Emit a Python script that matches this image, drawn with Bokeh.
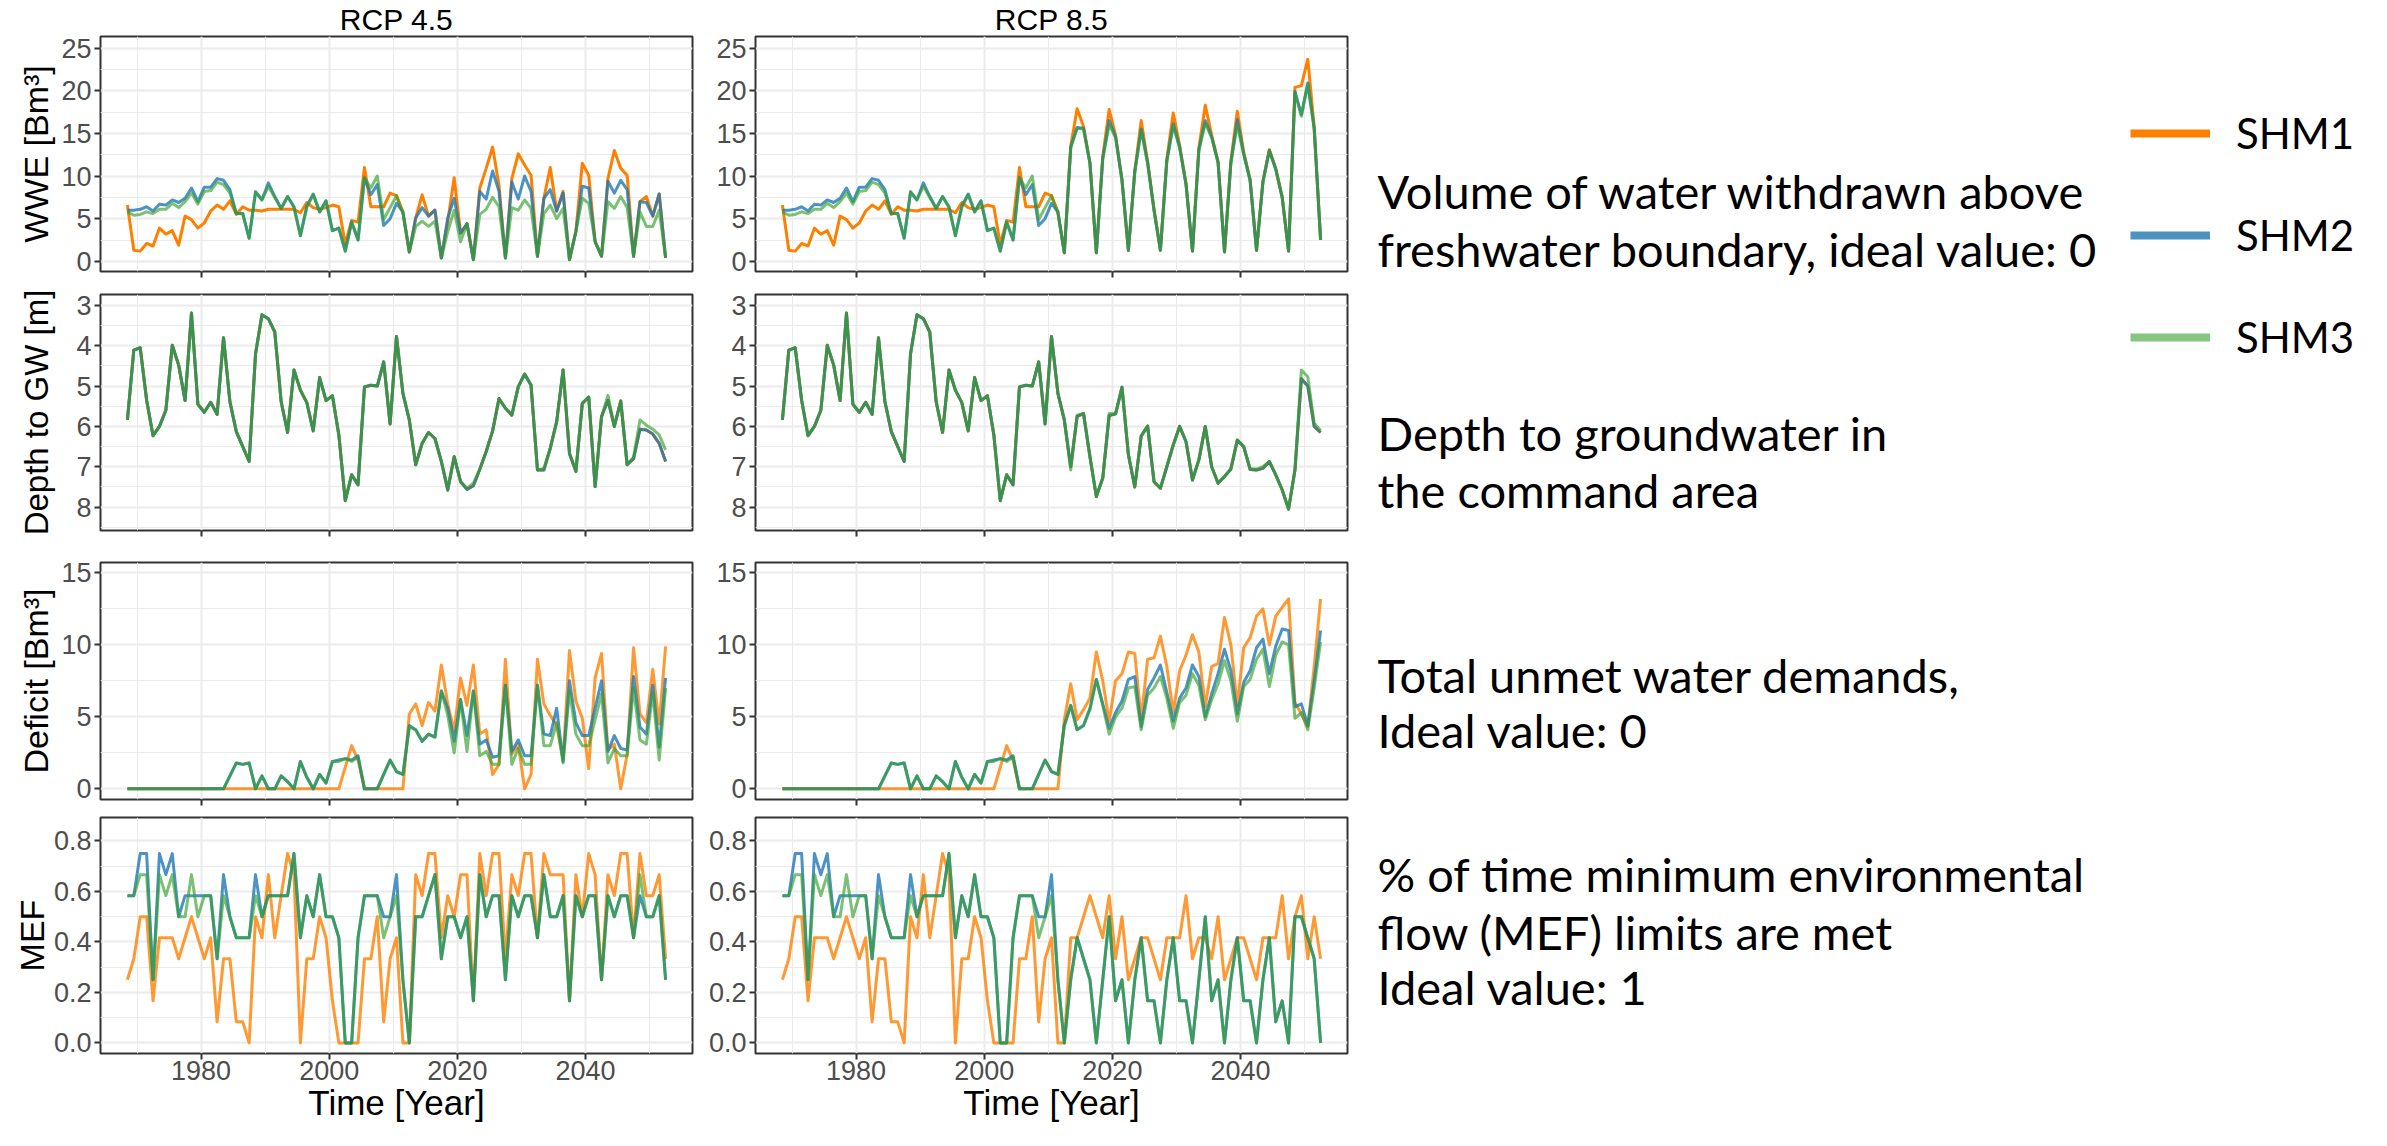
from bokeh.plotting import figure
from bokeh.layouts import row, column
from bokeh.models import (Range1d, FixedTicker, PrintfTickFormatter, Legend, LegendItem,
                          CustomJSTickFormatter, ColumnDataSource)
from bokeh.embed import file_html
from bokeh.resources import INLINE
from bokeh.core.properties import value

# ------------------------------------------------------------------ data
# 85 annual values, plotted at mid-year
YEARS = [y + 0.5 for y in range(1968, 2053)]
SCENARIOS = ["RCP 4.5", "RCP 8.5"]
MODELS = ["SHM1", "SHM2", "SHM3"]
X_TICKS = [1980, 2000, 2020, 2040]
X_MINOR = [1970, 1990, 2010, 2030, 2050]

# --- WWE [Bm3]: shared historical part (1968-2011) + scenario part (2012-2052)
WWE_HIST_SHM1 = [6.6, 1.3, 1.2, 2.1, 1.8, 3.9, 3.2, 3.6, 1.9, 5.3,
                 4.9, 3.9, 4.5, 5.9, 6.6, 6.1, 7.1, 5.5, 6.4, 6.0,
                 6.0, 5.9, 6.1, 6.1, 6.1, 6.1, 6.1, 5.7, 6.9, 6.3,
                 6.1, 6.3, 6.6, 6.4, 2.0, 4.8, 4.6, 11.0, 6.4, 6.4,
                 6.4, 8.0, 7.7, 5.8]
WWE_HIST_SHM2 = [6.0, 6.0, 6.1, 6.4, 5.9, 6.7, 6.6, 7.2, 6.9, 7.4,
                 8.6, 7.0, 8.7, 8.7, 9.7, 9.5, 8.4, 5.6, 5.6, 2.7,
                 8.1, 7.2, 9.2, 7.6, 6.2, 7.6, 6.4, 3.0, 6.5, 7.9,
                 5.8, 7.1, 3.6, 3.9, 1.2, 4.6, 2.5, 9.8, 7.8, 9.0,
                 4.2, 5.0, 6.8, 5.8]
WWE_HIST_SHM3 = [5.8, 5.4, 5.5, 5.8, 5.6, 6.1, 6.1, 6.8, 6.3, 7.0,
                 8.0, 6.7, 8.2, 8.3, 9.3, 9.0, 8.0, 5.6, 5.6, 2.7,
                 8.2, 7.2, 8.8, 7.5, 6.2, 7.6, 6.3, 3.0, 6.3, 7.8,
                 5.8, 7.1, 3.6, 3.9, 1.2, 4.6, 2.5, 9.8, 8.6, 10.0,
                 4.9, 6.3, 7.7, 5.6]
WWE_RCP45_SHM1 = [1.1, 5.1, 7.8, 5.3, 6.0, 0.4, 4.7, 9.8, 3.3, 4.4,
                  0.2, 8.6, 10.9, 13.4, 8.9, 0.4, 9.7, 12.6, 11.3, 10.1,
                  0.6, 7.4, 11.0, 5.9, 8.2, 0.2, 3.5, 11.5, 10.1, 2.3,
                  0.6, 9.7, 13.0, 10.9, 10.1, 0.6, 7.0, 7.6, 5.3, 7.9, 0.4]
WWE_RCP45_SHM2 = [1.1, 5.1, 6.3, 5.3, 6.0, 0.4, 5.1, 7.4, 3.3, 4.4,
                  0.2, 8.2, 7.3, 10.6, 8.2, 0.4, 9.3, 7.3, 10.0, 8.2,
                  0.6, 7.4, 8.4, 5.9, 8.0, 0.2, 3.5, 8.8, 8.6, 2.3,
                  0.6, 9.4, 8.0, 9.5, 8.4, 0.6, 7.0, 6.9, 5.3, 7.9, 0.4]
WWE_RCP45_SHM3 = [1.1, 4.1, 4.7, 4.1, 4.7, 0.4, 3.5, 6.0, 2.3, 4.4,
                  0.2, 5.5, 6.1, 7.5, 6.4, 0.4, 6.3, 6.0, 7.2, 6.2,
                  0.6, 5.6, 6.6, 5.0, 6.2, 0.2, 3.5, 7.4, 6.8, 2.3,
                  0.6, 7.0, 6.2, 7.6, 6.3, 0.6, 5.8, 4.1, 4.1, 6.0, 0.4]
WWE_RCP85_SHM1 = [1.0, 13.5, 17.9, 15.8, 11.6, 1.0, 12.3, 17.8, 14.8, 9.6,
                  1.3, 10.6, 16.5, 11.7, 6.1, 1.3, 12.0, 17.4, 13.6, 9.1,
                  1.2, 13.3, 18.3, 14.8, 11.7, 1.1, 11.8, 17.6, 12.8, 9.6,
                  1.3, 9.4, 13.1, 10.9, 7.6, 1.2, 20.4, 20.6, 23.7, 15.8, 2.5]
WWE_RCP85_SHM2 = [1.0, 13.4, 15.7, 15.6, 11.5, 1.0, 12.1, 16.5, 14.6, 9.5,
                  1.3, 10.5, 15.5, 11.6, 6.0, 1.3, 11.8, 16.1, 13.4, 9.0,
                  1.2, 13.1, 16.5, 14.6, 11.6, 1.1, 11.6, 16.6, 12.6, 9.5,
                  1.3, 9.3, 13.0, 10.8, 7.5, 1.2, 19.9, 17.2, 20.9, 15.6, 2.5]
WWE_RCP85_SHM3 = [1.0, 13.3, 15.6, 15.5, 11.5, 1.0, 12.0, 16.0, 14.5, 9.5,
                  1.3, 10.5, 15.4, 11.5, 6.0, 1.3, 11.7, 15.9, 13.3, 9.0,
                  1.2, 13.0, 16.2, 14.5, 11.5, 1.1, 11.5, 16.0, 12.5, 9.5,
                  1.3, 9.3, 13.0, 10.8, 7.5, 1.2, 19.8, 17.0, 20.8, 15.5, 2.5]

# --- Depth to groundwater [m]
DEPTH_HIST_SHM2 = [5.84, 4.11, 4.05, 5.35, 6.23, 6.00, 5.60, 3.99, 4.48, 5.36,
                   3.19, 5.45, 5.65, 5.40, 5.70, 3.80, 5.39, 6.13, 6.50, 6.87,
                   4.20, 3.23, 3.33, 3.66, 5.39, 6.15, 4.60, 5.10, 5.41, 6.11,
                   4.79, 5.36, 5.24, 6.21, 7.84, 7.20, 7.45, 5.02, 4.98, 5.00,
                   4.40, 5.94, 3.77, 5.18]
DEPTH_HIST_SHM1 = [5.84, 4.11, 4.05, 5.35, 6.23, 6.00, 5.60, 3.99, 4.48, 5.36,
                   3.19, 5.45, 5.65, 5.40, 5.70, 3.80, 5.39, 6.13, 6.50, 6.87,
                   4.20, 3.23, 3.33, 3.66, 5.39, 6.15, 4.60, 5.10, 5.41, 6.11,
                   4.79, 5.36, 5.24, 6.21, 7.84, 7.20, 7.45, 5.02, 4.98, 5.00,
                   4.40, 5.94, 3.77, 5.18]
DEPTH_HIST_SHM3 = [5.84, 4.11, 4.05, 5.35, 6.23, 6.00, 5.60, 3.99, 4.48, 5.36,
                   3.19, 5.45, 5.65, 5.40, 5.70, 3.80, 5.39, 6.13, 6.50, 6.87,
                   4.20, 3.23, 3.33, 3.66, 5.39, 6.15, 4.60, 5.10, 5.41, 6.11,
                   4.79, 5.36, 5.24, 6.21, 7.84, 7.20, 7.41, 5.02, 4.98, 5.00,
                   4.40, 5.94, 3.77, 5.18]
DEPTH_RCP45_SHM1 = [5.84, 6.95, 6.42, 6.15, 6.30, 6.87, 7.58, 6.75, 7.37, 7.56,
                    7.47, 7.06, 6.62, 6.11, 5.31, 5.55, 5.72, 5.02, 4.70, 4.98,
                    7.08, 7.08, 6.54, 5.88, 4.60, 6.68, 7.12, 5.43, 5.27, 7.49,
                    5.76, 5.35, 6.00, 5.37, 6.95, 6.80, 6.07, 6.09, 6.19, 6.42, 6.87]
DEPTH_RCP45_SHM2 = [5.84, 6.95, 6.42, 6.15, 6.30, 6.87, 7.58, 6.75, 7.37, 7.56,
                    7.47, 7.06, 6.62, 6.11, 5.31, 5.55, 5.72, 5.02, 4.70, 4.98,
                    7.08, 7.08, 6.54, 5.88, 4.60, 6.68, 7.12, 5.43, 5.27, 7.49,
                    5.76, 5.35, 6.00, 5.37, 6.95, 6.80, 6.07, 6.09, 6.19, 6.42, 6.87]
DEPTH_RCP45_SHM3 = [5.84, 6.95, 6.42, 6.15, 6.30, 6.87, 7.53, 6.75, 7.37, 7.53,
                    7.41, 7.06, 6.62, 6.11, 5.31, 5.55, 5.72, 5.02, 4.70, 4.98,
                    7.08, 7.04, 6.54, 5.88, 4.60, 6.65, 7.09, 5.43, 5.27, 7.49,
                    5.76, 5.23, 6.00, 5.37, 6.95, 6.76, 5.84, 5.97, 6.07, 6.21, 6.58]
DEPTH_RCP85_SHM1 = [5.84, 7.00, 5.75, 5.68, 6.75, 7.74, 7.28, 5.73, 5.69, 5.03,
                    6.70, 7.50, 6.24, 5.99, 7.37, 7.53, 7.00, 6.46, 6.00, 6.38,
                    7.33, 6.83, 6.00, 7.00, 7.41, 7.24, 7.06, 6.34, 6.50, 7.07,
                    7.08, 7.04, 6.87, 7.20, 7.57, 8.05, 7.08, 4.82, 5.00, 6.00, 6.15]
DEPTH_RCP85_SHM2 = [5.84, 7.00, 5.75, 5.68, 6.75, 7.74, 7.28, 5.73, 5.69, 5.03,
                    6.70, 7.50, 6.24, 5.99, 7.37, 7.53, 7.00, 6.46, 6.00, 6.38,
                    7.33, 6.83, 6.00, 7.00, 7.41, 7.24, 7.06, 6.34, 6.50, 7.07,
                    7.08, 7.04, 6.87, 7.20, 7.57, 8.05, 7.08, 4.82, 5.00, 6.00, 6.15]
DEPTH_RCP85_SHM3 = [5.84, 7.08, 5.72, 5.68, 6.75, 7.74, 7.28, 5.68, 5.69, 5.03,
                    6.70, 7.50, 6.24, 5.99, 7.37, 7.53, 7.00, 6.46, 6.00, 6.38,
                    7.33, 6.83, 6.00, 7.00, 7.41, 7.24, 7.04, 6.34, 6.50, 7.04,
                    7.06, 7.00, 6.87, 7.20, 7.57, 8.05, 7.08, 4.60, 4.77, 5.92, 6.10]

# --- Deficit [Bm3]
DEF_HIST_SHM1 = [0, 0, 0, 0, 0, 0, 0, 0, 0, 0,
                 0, 0, 0, 0, 0, 0, 0, 0, 0, 0,
                 0, 0, 0, 0, 0, 0, 0, 0, 0, 0,
                 0, 0, 0, 0, 1.5, 3.0, 2.0, 0, 0, 0,
                 0, 0, 0, 0]
DEF_HIST_SHM2 = [0, 0, 0, 0, 0, 0, 0, 0, 0, 0,
                 0, 0, 0, 0, 0, 0, 0.9, 1.8, 1.7, 1.8,
                 0, 0.9, 0, 0, 0.9, 0.5, 0, 1.9, 0.8, 0,
                 1.0, 0.4, 1.9, 2.0, 2.1, 2.0, 2.3, 0, 0, 0,
                 1.0, 2.0, 1.2, 1.0]
DEF_HIST_SHM3 = [0, 0, 0, 0, 0, 0, 0, 0, 0, 0,
                 0, 0, 0, 0, 0, 0, 0.9, 1.8, 1.7, 1.8,
                 0, 0.9, 0, 0, 0.9, 0.5, 0, 1.9, 0.8, 0,
                 1.0, 0.4, 1.9, 1.9, 2.1, 1.9, 2.2, 0, 0, 0,
                 1.0, 2.0, 1.2, 1.0]
DEF_RCP45_SHM1 = [5.2, 5.9, 4.4, 6.0, 5.4, 8.6, 5.9, 4.0, 7.7, 5.8,
                  8.6, 3.8, 4.1, 1.0, 1.7, 9.0, 2.4, 3.1, 0.0, 1.0,
                  9.0, 5.9, 5.1, 4.4, 2.1, 9.6, 6.1, 4.9, 1.4, 7.7,
                  9.4, 2.7, 3.1, 0.0, 2.4, 9.8, 5.2, 4.6, 8.3, 4.5, 9.9]
DEF_RCP45_SHM2 = [4.4, 4.1, 3.3, 3.8, 3.6, 6.8, 5.6, 3.3, 6.2, 3.7,
                  6.8, 3.1, 3.4, 2.2, 2.3, 7.2, 2.6, 3.4, 2.3, 2.3,
                  7.2, 3.8, 3.7, 5.6, 1.9, 7.5, 4.6, 3.7, 3.7, 5.6,
                  7.5, 2.6, 3.7, 2.8, 2.7, 7.8, 4.3, 3.8, 7.2, 2.9, 7.7]
DEF_RCP45_SHM3 = [4.3, 4.1, 3.3, 3.8, 3.6, 6.8, 5.1, 2.5, 6.2, 2.6,
                  6.8, 2.3, 2.6, 1.7, 1.7, 7.2, 1.7, 2.8, 1.7, 1.7,
                  7.2, 3.0, 3.0, 4.6, 1.8, 6.8, 3.8, 3.0, 3.0, 4.8,
                  6.6, 1.8, 2.8, 2.3, 2.3, 7.0, 3.4, 3.1, 6.7, 2.0, 7.0]
DEF_RCP85_SHM1 = [4.8, 7.3, 4.8, 5.5, 6.3, 9.5, 7.5, 4.7, 7.5, 8.0,
                  9.5, 9.4, 4.8, 9.0, 9.1, 10.6, 8.5, 5.3, 8.2, 9.3,
                  10.7, 9.5, 5.7, 8.5, 8.7, 11.9, 10.0, 5.8, 9.8, 10.5,
                  12.0, 12.5, 10.0, 12.0, 12.6, 13.2, 6.0, 5.2, 4.3, 8.5, 13.2]
DEF_RCP85_SHM2 = [4.4, 5.8, 4.1, 4.4, 5.6, 7.6, 5.9, 4.2, 5.3, 6.1,
                  7.6, 7.8, 4.3, 6.9, 7.7, 8.6, 6.7, 4.7, 6.3, 7.0,
                  8.6, 7.8, 5.0, 6.6, 8.0, 9.7, 8.2, 5.2, 7.4, 8.2,
                  9.8, 10.4, 8.0, 9.9, 11.1, 11.0, 5.7, 5.9, 4.4, 7.5, 11.0]
DEF_RCP85_SHM3 = [4.4, 5.8, 4.1, 4.4, 5.5, 7.6, 5.8, 3.8, 5.0, 5.6,
                  7.0, 7.1, 4.1, 6.5, 7.0, 7.8, 6.3, 4.2, 6.0, 6.5,
                  8.0, 7.2, 4.8, 6.2, 7.3, 8.9, 7.5, 4.7, 7.1, 7.6,
                  9.0, 9.7, 7.1, 9.3, 10.2, 10.0, 4.9, 5.3, 4.1, 7.0, 10.2]

# --- MEF: number of months (out of 12) in which the minimum flow is met
MEF_HIST_SHM1 = [3, 4, 6, 6, 2, 5, 5, 5, 4, 5, 6, 5, 4, 5, 1, 4, 4, 1, 1, 0,
                 6, 5, 8, 5, 7, 9, 8, 0, 4, 4, 6, 5, 2, 0, 0, 0, 0, 4, 4, 6,
                 1, 4, 5, 0]
MEF_HIST_SHM2 = [7, 7, 9, 9, 3, 9, 8, 9, 6, 7, 7, 7, 7, 7, 4, 8, 6, 5, 5, 5,
                 8, 6, 7, 7, 7, 7, 9, 5, 7, 6, 8, 6, 6, 5, 0, 0, 5, 7, 7, 7,
                 6, 6, 8, 3]
MEF_HIST_SHM3 = [7, 7, 8, 8, 3, 8, 7, 8, 6, 6, 8, 6, 7, 7, 4, 7, 6, 5, 5, 5,
                 7, 6, 7, 7, 7, 7, 9, 5, 7, 6, 8, 6, 6, 5, 0, 0, 5, 7, 7, 7,
                 5, 6, 7, 3]
MEF_RCP45_SHM1 = [0, 8, 7, 9, 9, 5, 7, 6, 8, 8, 2, 9, 7, 9, 9, 4, 8, 7, 9, 9, 5,
                  9, 8, 8, 8, 2, 8, 6, 9, 8, 3, 8, 7, 9, 9, 5, 9, 7, 7, 8, 4]
MEF_RCP45_SHM2 = [0, 6, 6, 7, 8, 4, 6, 6, 5, 6, 2, 8, 6, 7, 7, 3, 7, 6, 7, 7, 5,
                  8, 6, 6, 7, 2, 7, 6, 7, 7, 3, 7, 6, 7, 7, 5, 7, 6, 6, 7, 3]
MEF_RCP45_SHM3 = [0, 6, 6, 7, 8, 4, 6, 6, 5, 6, 2, 8, 6, 7, 7, 3, 7, 6, 7, 7, 5,
                  8, 6, 6, 7, 2, 7, 6, 7, 7, 3, 7, 6, 7, 7, 5, 8, 6, 6, 7, 3]
MEF_RCP85_SHM1 = [0, 5, 5, 6, 7, 6, 5, 7, 4, 6, 3, 4, 5, 5, 4, 3, 5, 5, 5, 7, 4,
                  5, 5, 4, 6, 3, 4, 5, 5, 4, 3, 5, 5, 5, 7, 4, 6, 7, 4, 6, 4]
MEF_RCP85_SHM2 = [0, 3, 5, 4, 3, 0, 3, 6, 2, 3, 0, 3, 5, 2, 2, 0, 3, 5, 2, 2, 0,
                  3, 6, 2, 3, 0, 3, 5, 2, 2, 0, 3, 5, 1, 2, 0, 6, 6, 5, 4, 0]
MEF_RCP85_SHM3 = [0, 3, 5, 4, 3, 0, 3, 6, 2, 3, 0, 3, 5, 2, 2, 0, 3, 5, 2, 2, 0,
                  3, 6, 2, 3, 0, 3, 5, 2, 2, 0, 3, 5, 1, 2, 0, 6, 6, 5, 4, 0]

ANNOTATIONS = [
    ["Volume of water withdrawn above", "freshwater boundary, ideal value: 0"],
    ["Depth to groundwater in", "the command area"],
    ["Total unmet water demands,", "Ideal value: 0"],
    ["% of time minimum environmental", "flow (MEF) limits are met", "Ideal value: 1"],
]

# ------------------------------------------------------------------ assemble series
def months_to_share(months):
    return [m / 12 for m in months]

SERIES = {
    "WWE": {
        "RCP 4.5": {"SHM1": WWE_HIST_SHM1 + WWE_RCP45_SHM1,
                    "SHM2": WWE_HIST_SHM2 + WWE_RCP45_SHM2,
                    "SHM3": WWE_HIST_SHM3 + WWE_RCP45_SHM3},
        "RCP 8.5": {"SHM1": WWE_HIST_SHM1 + WWE_RCP85_SHM1,
                    "SHM2": WWE_HIST_SHM2 + WWE_RCP85_SHM2,
                    "SHM3": WWE_HIST_SHM3 + WWE_RCP85_SHM3},
    },
    "DEPTH": {
        "RCP 4.5": {"SHM1": DEPTH_HIST_SHM1 + DEPTH_RCP45_SHM1,
                    "SHM2": DEPTH_HIST_SHM2 + DEPTH_RCP45_SHM2,
                    "SHM3": DEPTH_HIST_SHM3 + DEPTH_RCP45_SHM3},
        "RCP 8.5": {"SHM1": DEPTH_HIST_SHM1 + DEPTH_RCP85_SHM1,
                    "SHM2": DEPTH_HIST_SHM2 + DEPTH_RCP85_SHM2,
                    "SHM3": DEPTH_HIST_SHM3 + DEPTH_RCP85_SHM3},
    },
    "DEFICIT": {
        "RCP 4.5": {"SHM1": DEF_HIST_SHM1 + DEF_RCP45_SHM1,
                    "SHM2": DEF_HIST_SHM2 + DEF_RCP45_SHM2,
                    "SHM3": DEF_HIST_SHM3 + DEF_RCP45_SHM3},
        "RCP 8.5": {"SHM1": DEF_HIST_SHM1 + DEF_RCP85_SHM1,
                    "SHM2": DEF_HIST_SHM2 + DEF_RCP85_SHM2,
                    "SHM3": DEF_HIST_SHM3 + DEF_RCP85_SHM3},
    },
    "MEF": {
        "RCP 4.5": {"SHM1": months_to_share(MEF_HIST_SHM1 + MEF_RCP45_SHM1),
                    "SHM2": months_to_share(MEF_HIST_SHM2 + MEF_RCP45_SHM2),
                    "SHM3": months_to_share(MEF_HIST_SHM3 + MEF_RCP45_SHM3)},
        "RCP 8.5": {"SHM1": months_to_share(MEF_HIST_SHM1 + MEF_RCP85_SHM1),
                    "SHM2": months_to_share(MEF_HIST_SHM2 + MEF_RCP85_SHM2),
                    "SHM3": months_to_share(MEF_HIST_SHM3 + MEF_RCP85_SHM3)},
    },
}

# ------------------------------------------------------------------ styling
COLORS = {"SHM1": "#FF7F00", "SHM2": "#1F78B4", "SHM3": "#33A02C"}
FONT = "Liberation Sans"
SIDE_FONT = "Lato"
X_RANGE = (1964.3, 2056.7)

ROWS = [
    dict(key="WWE", label="WWE [Bm³]", yr=(-1.19, 26.36), ticks=[0, 5, 10, 15, 20, 25],
         minor=[2.5, 7.5, 12.5, 17.5, 22.5], fmt="%d", lstand=3, lsize="34px",
         alphas=(1.0, 0.8, 0.65)),
    dict(key="DEPTH", label="Depth to GW [m]", yr=(8.58, 2.73), ticks=[3, 4, 5, 6, 7, 8],
         minor=[3.5, 4.5, 5.5, 6.5, 7.5, 8.5], fmt="%d", lstand=18, lsize="33px",
         alphas=(1.0, 0.8, 0.65)),
    dict(key="DEFICIT", label="Deficit [Bm³]", yr=(-0.74, 15.72), ticks=[0, 5, 10, 15],
         minor=[2.5, 7.5, 12.5], fmt="%d", lstand=3, lsize="34px", alphas=(0.8, 0.8, 0.65)),
    dict(key="MEF", label="MEF", yr=(-0.042, 0.893), ticks=[0, 0.2, 0.4, 0.6, 0.8],
         minor=[0.1, 0.3, 0.5, 0.7], fmt="%.1f", lstand=0, lsize="34px",
         alphas=(0.8, 0.8, 0.65)),
]
ROW_TOP = [35, 13, 20, 9]
ROW_FRAME = [236, 236, 237, 236]
ROW_BOTTOM = [10, 12, 9, 77]
ROW_H = [t + f + b for t, f, b in zip(ROW_TOP, ROW_FRAME, ROW_BOTTOM)]
LEFT_W, RIGHT_W = 700, 653
SIDE_W = 2371 - LEFT_W - RIGHT_W
TOTAL_H = sum(ROW_H)


def make_panel(r, c):
    spec = ROWS[r]
    scen = SCENARIOS[c]
    left = c == 0
    last = r == len(ROWS) - 1
    p = figure(width=LEFT_W if left else RIGHT_W, height=ROW_H[r],
               x_range=Range1d(*X_RANGE), y_range=Range1d(*spec["yr"]),
               output_backend="svg", toolbar_location=None,
               min_border_left=100 if left else 55, min_border_right=8 if left else 6,
               min_border_top=ROW_TOP[r], min_border_bottom=ROW_BOTTOM[r],
               background_fill_color="white", border_fill_color="white",
               outline_line_color="#333333", outline_line_width=2)
    for m, a in zip(MODELS, spec["alphas"]):
        p.line(YEARS, SERIES[spec["key"]][scen][m], line_color=COLORS[m], line_alpha=a,
               line_width=3, line_join="round")

    p.xaxis.ticker = FixedTicker(ticks=X_TICKS, minor_ticks=X_MINOR)
    p.yaxis.ticker = FixedTicker(ticks=spec["ticks"], minor_ticks=spec["minor"])
    p.yaxis.formatter = PrintfTickFormatter(format=spec["fmt"])
    for ax in (p.xaxis, p.yaxis):
        ax.axis_line_color = None
        ax.major_tick_line_color = "#333333"
        ax.major_tick_line_width = 2
        ax.major_tick_out = 6
        ax.major_tick_in = 0
        ax.minor_tick_line_color = None
        ax.major_label_text_color = "#4D4D4D"
        ax.major_label_text_font = FONT
        ax.major_label_text_font_size = "27px"
        ax.major_label_standoff = 3
        ax.axis_label_text_font = FONT
        ax.axis_label_text_font_style = "normal"
        ax.axis_label_text_color = "black"
    if last:
        p.xaxis.axis_label = "Time [Year]"
        p.xaxis.axis_label_text_font_size = "35px"
        p.xaxis.axis_label_standoff = 0
        p.xaxis.major_label_standoff = 1
    else:
        p.xaxis.formatter = CustomJSTickFormatter(code="return ''")
    if left:
        p.yaxis.axis_label = spec["label"]
        p.yaxis.axis_label_text_font_size = spec["lsize"]
        p.yaxis.axis_label_standoff = spec["lstand"]

    for g in (p.xgrid, p.ygrid):
        g.grid_line_color = "#EBEBEB"
        g.grid_line_width = 2
        g.minor_grid_line_color = "#EBEBEB"
        g.minor_grid_line_width = 1
    p.ygrid.ticker = p.yaxis.ticker
    p.xgrid.ticker = p.xaxis.ticker

    if r == 0:
        p.title.text = scen
        p.title.align = "center"
        p.title.text_font = FONT
        p.title.text_font_size = "30px"
        p.title.text_font_style = "normal"
        p.title.text_color = "black"
        p.title.standoff = 1
    return p


rows_layout = [row(*[make_panel(r, c) for c in range(2)]) for r in range(len(ROWS))]
main = column(*rows_layout)

# ------------------------------------------------------------------ side panel: legend + notes
side = figure(width=SIDE_W, height=TOTAL_H, x_range=Range1d(0, SIDE_W),
              y_range=Range1d(TOTAL_H, 0), x_axis_type=None, y_axis_type=None,
              output_backend="svg", toolbar_location=None, min_border=0,
              outline_line_color=None, background_fill_color="white",
              border_fill_color="white")
side.xgrid.visible = False
side.ygrid.visible = False

NOTE_X = 24
NOTE_Y = [[190, 248], [432, 489], [674, 729], [873, 931, 986]]
tx, ty, tt = [], [], []
for lines, ys in zip(ANNOTATIONS, NOTE_Y):
    for line, yy in zip(lines, ys):
        tx.append(NOTE_X)
        ty.append(yy)
        tt.append(line)
side.text(x="x", y="y", text="t", source=ColumnDataSource(dict(x=tx, y=ty, t=tt)),
          text_font=value(SIDE_FONT), text_font_size="47px", text_color="black",
          text_baseline="middle", text_align="left")

# legend handles: line renderers without drawable points (NaN), shown only as legend keys
legend_renderers = []
for m in MODELS:
    alpha = {"SHM1": 1.0, "SHM2": 0.8, "SHM3": 0.6}[m]
    legend_renderers.append(side.line(x=[float("nan")], y=[float("nan")], line_color=COLORS[m],
                                      line_alpha=alpha, line_width=8))
legend = Legend(items=[LegendItem(label=m, renderers=[rr]) for m, rr in zip(MODELS, legend_renderers)],
                location=(777, TOTAL_H - 362), orientation="vertical",
                glyph_width=80, glyph_height=50, label_height=50, spacing=52,
                label_standoff=26, padding=0, margin=0,
                label_text_font=SIDE_FONT, label_text_font_size="42px",
                label_text_color="black", border_line_color=None,
                background_fill_alpha=0)
side.add_layout(legend)

layout = row(main, side)
open("out.html", "w").write(file_html(layout, INLINE))
